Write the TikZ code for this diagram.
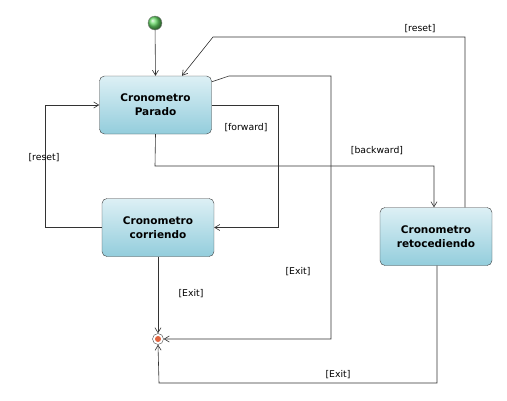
\documentclass[tikz,border=0pt]{standalone}
\usepackage{fontspec}
\setmainfont{DejaVu Sans}
\usepackage{xcolor}
\usepackage{tikz}
\usetikzlibrary{calc}
\usetikzlibrary{arrows.meta}
\usetikzlibrary{shadings}

\definecolor{boxtop}{HTML}{DDF0F5}
\definecolor{boxbot}{HTML}{93CDDC}
\definecolor{boxline}{HTML}{3C3C3C}
\definecolor{startgreen}{HTML}{66D866}
\definecolor{endred}{HTML}{E0643F}

\tikzset{
    estado/.style={draw=boxline, rounded corners=5pt, top color=boxtop, bottom color=boxbot,
        minimum width=112pt, minimum height=58pt, align=center, font=\fontsize{10.5}{14}\selectfont\bfseries},
    trans/.style={draw=black!80, line width=0.6pt, -{Straight Barb[length=5pt,width=6pt]}},
    guarda/.style={font=\fontsize{9.3}{11}\selectfont, inner sep=1pt}
}

\begin{document}
\begin{tikzpicture}[x=1pt,y=-1pt]
        \useasboundingbox (0,0) rectangle (507,400);
        %INICIO
        \node[circle, draw=black!50, ball color=startgreen, minimum size=14pt, inner sep=0pt] (inicio) at (155,23) {};
        %ESTADOS
        \node[estado] (parado) at (155.5,105) {Cronometro\\Parado};
        \node[estado] (corriendo) at (158,227.5) {Cronometro\\corriendo};
        \node[estado] (retro) at (436,236.5) {Cronometro\\retocediendo};
        %FINAL
        \node[circle, draw=black!70, fill=white, minimum size=11pt, inner sep=0pt] (fin) at (158,339) {};
        \fill[endred] (fin) circle (3pt);
        %PUNTOS DE PASO
        \coordinate (resetA) at (213,37);
        \coordinate (exitA) at (229,76);
        \coordinate (fwdA) at (278,105);
        \coordinate (resetB) at (45,227.5);
        \coordinate (bwdA) at (155,166);
        \coordinate (exitB) at (159,383);
        %TRANSICIONES
        \draw[trans] (inicio) -- (parado.north);
        \draw[trans] ([xshift=29pt]retro.north) |- (resetA) -- ([xshift=26.5pt]parado.north);
        \draw[trans] ([yshift=-6pt]parado.north east) -- (exitA) -| (331,339) -- (fin.east);
        \draw[trans] (parado.east) -- (fwdA) |- (corriendo.east);
        \draw[trans] (corriendo.west) -- (resetB) |- (parado.west);
        \draw[trans] (parado.south) -- (bwdA) -| ([xshift=-2pt]retro.north);
        \draw[trans] (corriendo.south) -- (fin.north);
        \draw[trans] ([xshift=1pt]retro.south) |- (exitB) -- (fin.south);
        %ETIQUETAS
        \node[guarda] (lreset1) at (420,29) {[reset]};
        \node[guarda] (lexit1) at (298,272) {[Exit]};
        \node[guarda] (lfwd) at (246,128) {[forward]};
        \node[guarda] (lreset2) at (44,158) {[reset]};
        \node[guarda] (lbwd) at (377,151) {[backward]};
        \node[guarda] (lexit2) at (191,294) {[Exit]};
        \node[guarda] (lexit3) at (338,375) {[Exit]};
    \end{tikzpicture}
\end{document}
